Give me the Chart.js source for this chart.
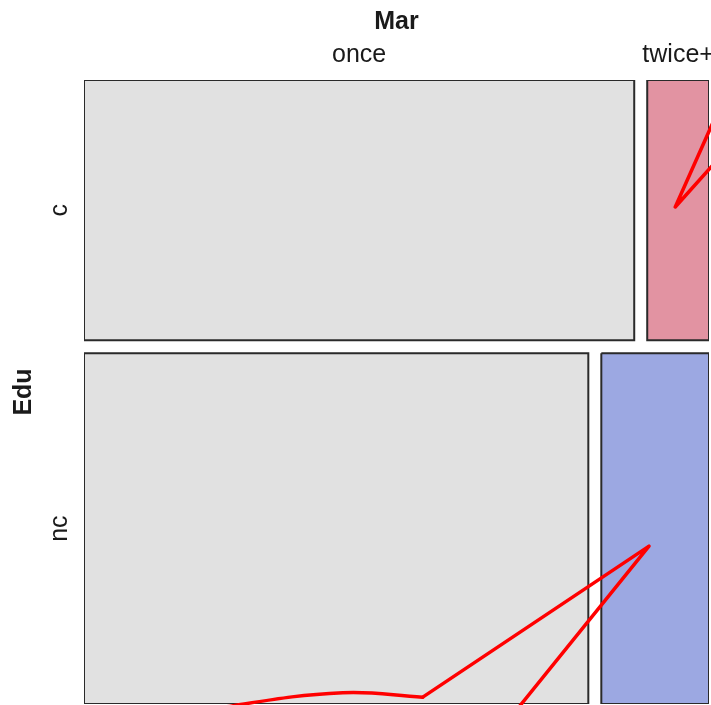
<!DOCTYPE html>
<html>
<head>
<meta charset="utf-8">
<script src="https://cdn.jsdelivr.net/npm/chart.js@4/dist/chart.umd.min.js"></script>
<style>
  html, body { margin: 0; padding: 0; background: #fff; overflow: hidden; }
  canvas { display: block; }
</style>
</head>
<body>
<canvas id="mosaic" width="711" height="705"></canvas>
<script>
// mosaic counts: rows = Edu, columns = Mar
const eduLevels = ["c", "nc"];
const marLevels = ["once", "twice+"];
const countsC = [383, 43];
const countsNC = [473, 101];

// red trace drawn over the tiles (plot units, 0..1)
const redTopX = [1.059, 0.946, 1.059];
const redTopY = [-0.05, 0.2035, 0.077];
const redLineX = [0.653, 0.904, 0.542];
const redLineY = [1.058, 0.747, 0.989];
const redCurveX = [0.542, 0.414, 0.237, 0.074];
const redCurveY = [0.989, 0.982, 1.003, 1.036];

const gapX = 0.0208;
const gapY = 0.0208;
const onceColor = "#e1e1e1";
const rowColors = ["#e293a2", "#9ca8e2"];
const edgeColor = "#2a2a2a";

const rows = [countsC, countsNC];
const grand = rows.flat().reduce((a, b) => a + b, 0);

const tiles = [];
const rowCenters = [];
const colCenters = [];
let y0 = 0;
rows.forEach((row, r) => {
  const rowTotal = row.reduce((a, b) => a + b, 0);
  const h = (rowTotal / grand) * (1 - gapY);
  let x0 = 0;
  row.forEach((n, c) => {
    const w = (n / rowTotal) * (1 - gapX);
    tiles.push({ x0, x1: x0 + w, y0, y1: y0 + h, color: c === 0 ? onceColor : rowColors[r] });
    if (r === 0) colCenters.push(x0 + w / 2);
    x0 += w + gapX;
  });
  rowCenters.push(y0 + h / 2);
  y0 += h + gapY;
});

const toPoints = (xs, ys) => xs.map((x, i) => ({ x, y: ys[i] }));

const redSet = (xs, ys, tension) => ({
  data: toPoints(xs, ys),
  showLine: true,
  borderColor: "#ff0000",
  borderWidth: 3.5,
  borderJoinStyle: "round",
  borderCapStyle: "round",
  pointRadius: 0,
  tension: tension,
  fill: false,
  clip: false,
});

const tileSets = tiles.map((t) => ({
  data: [
    { x: t.x0, y: t.y0 },
    { x: t.x1, y: t.y0 },
    { x: t.x1, y: t.y1 },
    { x: t.x0, y: t.y1 },
    { x: t.x0, y: t.y0 },
  ],
  showLine: true,
  fill: "shape",
  backgroundColor: t.color,
  borderColor: edgeColor,
  borderWidth: 2,
  pointRadius: 0,
  tension: 0,
}));

// fixed axis band sizes, no extra room for overhanging tick labels
const fitAxis = (size) => (scale) => {
  scale.paddingLeft = 0;
  scale.paddingRight = 0;
  scale.paddingTop = 0;
  scale.paddingBottom = 0;
  if (scale.isHorizontal()) scale.height = size;
  else scale.width = size;
};

const labelFont = { family: "Liberation Sans, Arial, sans-serif", size: 25 };
const titleFont = { family: "Liberation Sans, Arial, sans-serif", size: 25, weight: "bold" };

const config = {
  type: "scatter",
  data: {
    datasets: [
      redSet(redTopX, redTopY, 0),
      redSet(redLineX, redLineY, 0),
      redSet(redCurveX, redCurveY, 0.4),
      ...tileSets,
    ],
  },
  options: {
    responsive: false,
    animation: false,
    layout: { autoPadding: false, padding: { top: 0, right: 2, bottom: 1, left: 0 } },
    plugins: { legend: { display: false }, tooltip: { enabled: false } },
    scales: {
      x: {
        type: "linear",
        position: "top",
        min: 0,
        max: 1,
        grid: { display: false, drawTicks: false },
        border: { display: false },
        afterBuildTicks: (axis) => {
          axis.ticks = colCenters.map((v) => ({ value: v }));
        },
        afterFit: fitAxis(80),
        ticks: {
          padding: 10,
          maxRotation: 0,
          autoSkip: false,
          color: "#1a1a1a",
          font: labelFont,
          callback: (v, i) => marLevels[i],
        },
        title: {
          display: true,
          text: "Mar",
          color: "#1a1a1a",
          padding: { top: 7, bottom: 4 },
          font: titleFont,
        },
      },
      y: {
        type: "linear",
        reverse: true,
        min: 0,
        max: 1,
        grid: { display: false, drawTicks: false },
        border: { display: false },
        afterBuildTicks: (axis) => {
          axis.ticks = rowCenters.map((v) => ({ value: v }));
        },
        afterFit: fitAxis(84),
        ticks: {
          padding: 11,
          minRotation: 90,
          maxRotation: 90,
          crossAlign: "center",
          autoSkip: false,
          color: "#1a1a1a",
          font: labelFont,
          callback: (v, i) => eduLevels[i],
        },
        title: {
          display: true,
          text: "Edu",
          color: "#1a1a1a",
          padding: { top: 9, bottom: 10 },
          font: titleFont,
        },
      },
    },
  },
};

new Chart(document.getElementById("mosaic"), config);
</script>
</body>
</html>
